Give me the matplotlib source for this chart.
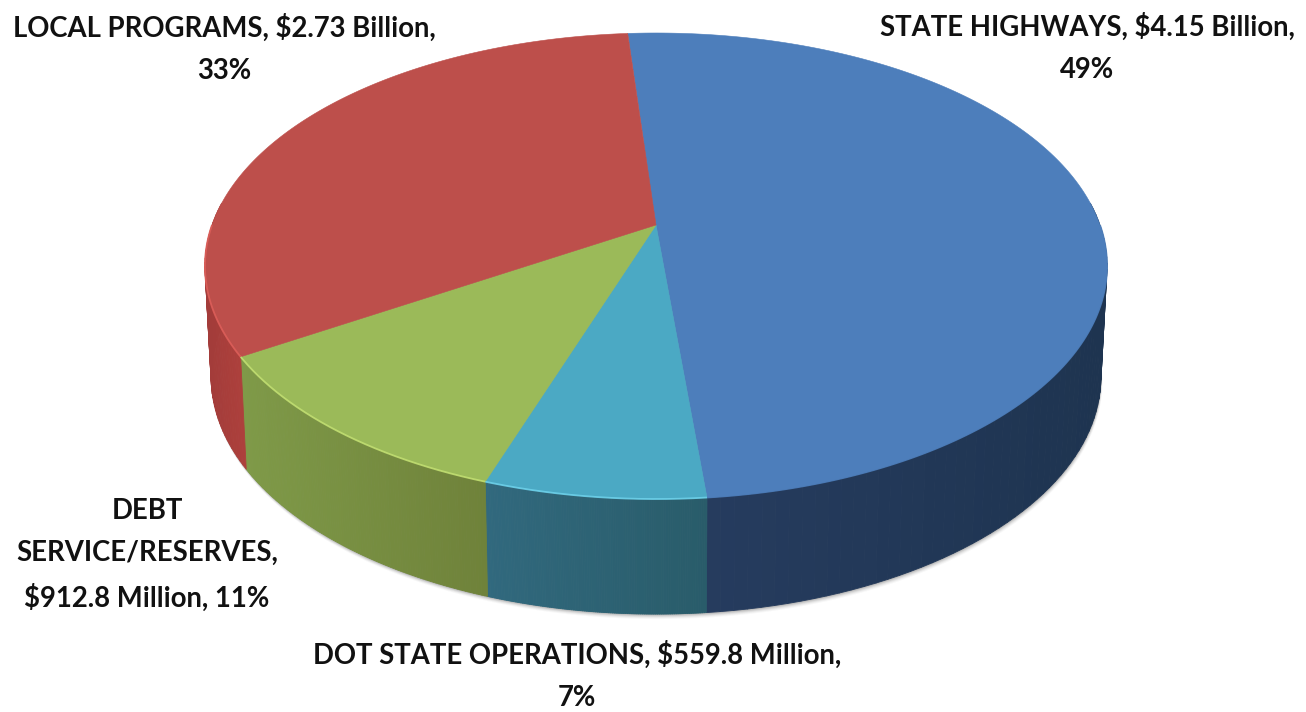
import numpy as np
import matplotlib
matplotlib.use("Agg")
import matplotlib.pyplot as plt
from matplotlib.collections import PolyCollection

# ---- data (clockwise from the top of the pie) ----
categories = ["STATE HIGHWAYS", "DOT STATE OPERATIONS", "DEBT SERVICE/RESERVES", "LOCAL PROGRAMS"]
values_billion = [4.15, 0.5598, 0.9128, 2.73]
labels = ["STATE HIGHWAYS, $4.15 Billion,\n49%",
          "DOT STATE OPERATIONS, $559.8 Million,\n7%",
          "DEBT\nSERVICE/RESERVES,\n$912.8 Million, 11%",
          "LOCAL PROGRAMS, $2.73 Billion,\n33%"]

# ---- styles ----
top_colors = ["#4D7EBB", "#4BA9C4", "#9BBA59", "#BD4F4B"]
rim_colors = ["#4D7EBB", "#6FD3EC", "#C3E073", "#DE5F5A"]
wall_start = ["#263C5F", "#31697E", "#7F9A48", "#A33C3A"]
wall_end = ["#1E3450", "#295C6A", "#6F823A", "#AD403C"]
label_pos = [(1087, 48), (577, 676), (147, 555), (224, 49)]
START_DEG = 94.3

# projected disc: a circle seen in perspective
CX = 656
Q = 0.176
TOP = dict(a=444, y0=225, p=-186.2)
BOT = dict(a=438, y0=335, p=-171)


def project(theta, g):
    u, v = np.cos(theta), np.sin(theta)
    d = 1 + Q * v
    return CX + g["a"] * u / d, (g["y0"] + g["p"] * v) / d


def mix(c1, c2, t):
    a = np.array(matplotlib.colors.to_rgb(c1))
    b = np.array(matplotlib.colors.to_rgb(c2))
    return tuple(a + (b - a) * t)


fig = plt.figure(figsize=(13.06, 7.12), dpi=100, facecolor="white")
ax = fig.add_axes([0, 0, 1, 1])
ax.set_xlim(0, 1306)
ax.set_ylim(712, 0)
ax.axis("off")

# soft shadow beneath the disc
full = np.linspace(0, 2 * np.pi, 400)
bx, by = project(full, BOT)
for off, alpha in zip([5, 4, 3, 2, 1], [0.04, 0.06, 0.09, 0.12, 0.16]):
    ax.fill(bx + off * 0.3, by + off, color="#404040", alpha=alpha, lw=0, zorder=1)

total = sum(values_billion)
sweeps = np.array(values_billion) / total * 2 * np.pi
edges = np.radians(START_DEG) - np.concatenate([[0], np.cumsum(sweeps)])

# side wall, as thin shaded strips (front part only)
for i in range(len(values_billion)):
    th = np.linspace(edges[i], edges[i + 1], 120)
    th = th[np.sin(th) < 0.1]
    tx, ty = project(th, TOP)
    ux, uy = project(th, BOT)
    lo, hi = tx.min(), tx.max()
    polys, cols = [], []
    for k in range(len(th) - 1):
        polys.append([(tx[k], ty[k]), (tx[k + 1], ty[k + 1]), (ux[k + 1], uy[k + 1]), (ux[k], uy[k])])
        t = np.clip((tx[k] - lo) / max(hi - lo, 1), 0, 1)
        cols.append(mix(wall_start[i], wall_end[i], t))
    ax.add_collection(PolyCollection(polys, facecolors=cols, edgecolors=cols, linewidths=0.6, zorder=2))

# top faces
apex = project(np.array([0.0]), dict(TOP, a=0))
for i in range(len(values_billion)):
    th = np.linspace(edges[i], edges[i + 1], 200)
    x, y = project(th, TOP)
    ax.fill(np.r_[apex[0], x], np.r_[apex[1], y], color=top_colors[i], lw=0.4, zorder=3)

# light rim along the front of the top face
for i in range(len(values_billion)):
    th = np.linspace(edges[i], edges[i + 1], 200)
    x, y = project(th, TOP)
    front = np.sin(th) < 0.0
    ax.plot(x[front], y[front], color=rim_colors[i], lw=1.3, alpha=0.85, zorder=4,
            solid_capstyle="butt")

# labels
for s, (lx, ly) in zip(labels, label_pos):
    ax.text(lx, ly, s, ha="center", va="center", family="Lato", weight="bold",
            fontsize=19.8, color="#111111", linespacing=1.77, zorder=5)

fig.savefig("out.png", dpi=100, facecolor="white")
